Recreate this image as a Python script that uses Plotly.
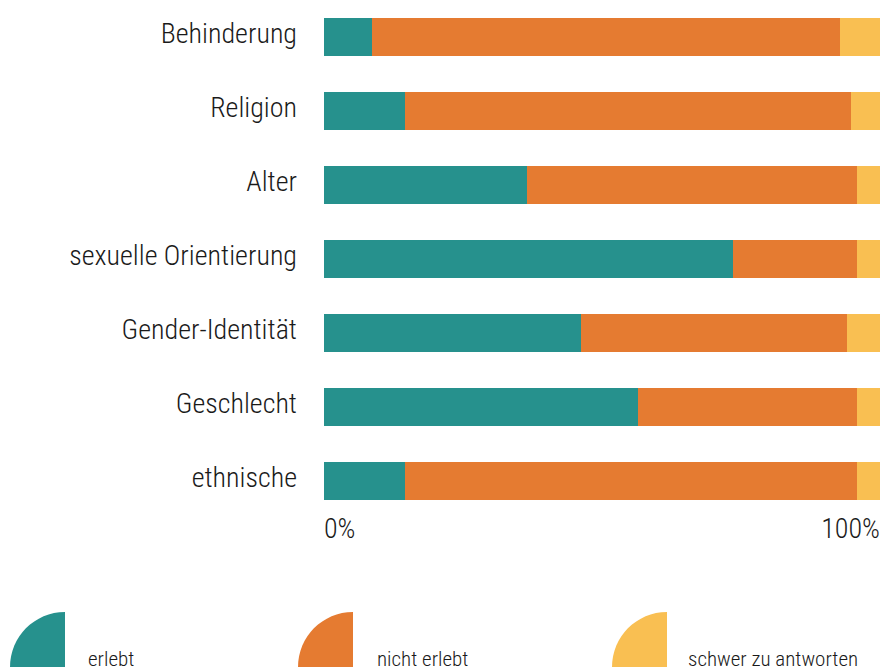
import plotly.graph_objects as go

categories = ["Behinderung", "Religion", "Alter", "sexuelle Orientierung",
              "Gender-Identität", "Geschlecht", "ethnische"]
series_names = ["erlebt", "nicht erlebt", "schwer zu antworten"]
erlebt = [8.6, 14.6, 36.5, 73.6, 46.2, 56.5, 14.6]
nicht_erlebt = [84.2, 80.2, 59.4, 22.3, 47.9, 39.4, 81.3]
schwer = [7.2, 5.2, 4.1, 4.1, 5.9, 4.1, 4.1]
x_ticks = [0, 100]
x_tick_labels = ["0%", "100%"]

colors = ["#26918d", "#e57b31", "#f9bf52"]
FONT = "'Roboto Condensed', 'Liberation Sans Narrow', sans-serif"
TXT = "#1a1a1a"
FS = 28
WT = 300

W, H = 880, 670
ML, MR, MT, MB = 324, 0, 0, 152
PW, PH = W - ML - MR, H - MT - MB

fig = go.Figure()
for name, vals, col in zip(series_names, [erlebt, nicht_erlebt, schwer], colors):
    fig.add_trace(go.Bar(y=categories, x=vals, name=name, orientation="h",
                         marker=dict(color=col, line=dict(width=0)),
                         showlegend=False, hoverinfo="x+y+name"))

# second x axis only to carry the right-aligned 100% tick label
fig.add_trace(go.Scatter(x=[None], y=[None], xaxis="x2", showlegend=False, hoverinfo="skip"))

def px2paper_x(px):
    return (px - ML) / PW

def px2paper_y(py):
    return (MT + PH - py) / PH

tf = dict(size=FS, family=FONT, color=TXT, weight=WT)
fig.update_layout(
    width=W, height=H,
    margin=dict(l=ML, r=MR, t=MT, b=MB, pad=0),
    barmode="stack", bargap=0.486,
    plot_bgcolor="white", paper_bgcolor="white",
    font=dict(family=FONT, color=TXT, size=FS, weight=WT),
    xaxis=dict(range=[0, 100], showgrid=False, zeroline=False, showline=False,
               tickvals=[x_ticks[0]], ticktext=[x_tick_labels[0]],
               ticklabelposition="outside right", ticks="", ticklabelstandoff=-9,
               tickfont=tf, fixedrange=True),
    xaxis2=dict(range=[0, 100], overlaying="x", side="bottom", showgrid=False,
                zeroline=False, showline=False,
                tickvals=[x_ticks[1]], ticktext=[x_tick_labels[1]],
                ticklabelposition="outside left", ticks="", ticklabelstandoff=-9,
                tickfont=tf, fixedrange=True),
    yaxis=dict(categoryorder="array", categoryarray=categories[::-1],
               showgrid=False, zeroline=False, showline=False, ticks="",
               ticklabelstandoff=26, ticklabelshift=-4,
               tickfont=tf, fixedrange=True),
)

# legend: quarter-circle markers + labels
sym_right = [65, 353, 667]
txt_left = [86, 375, 686]
base_y = 667
r = 55
k = 0.5523 * r
for name, col, sx, tx in zip(series_names, colors, sym_right, txt_left):
    path = (f"M 0,0 L {-r},0 C {-r},{k} {-k},{r} 0,{r} Z")
    fig.add_shape(type="path", xref="paper", yref="paper",
                  xsizemode="pixel", ysizemode="pixel",
                  xanchor=px2paper_x(sx), yanchor=px2paper_y(base_y),
                  path=path, fillcolor=col, line=dict(width=0), layer="above")
    fig.add_annotation(text=name, xref="paper", yref="paper",
                       x=px2paper_x(tx), y=px2paper_y(659),
                       xanchor="left", yanchor="middle", showarrow=False,
                       font=dict(size=21, family=FONT, color=TXT, weight=WT))

fig.write_html("out.html", config={"displayModeBar": False},
               post_script="document.body.style.margin='0';document.body.style.overflow='hidden';")
